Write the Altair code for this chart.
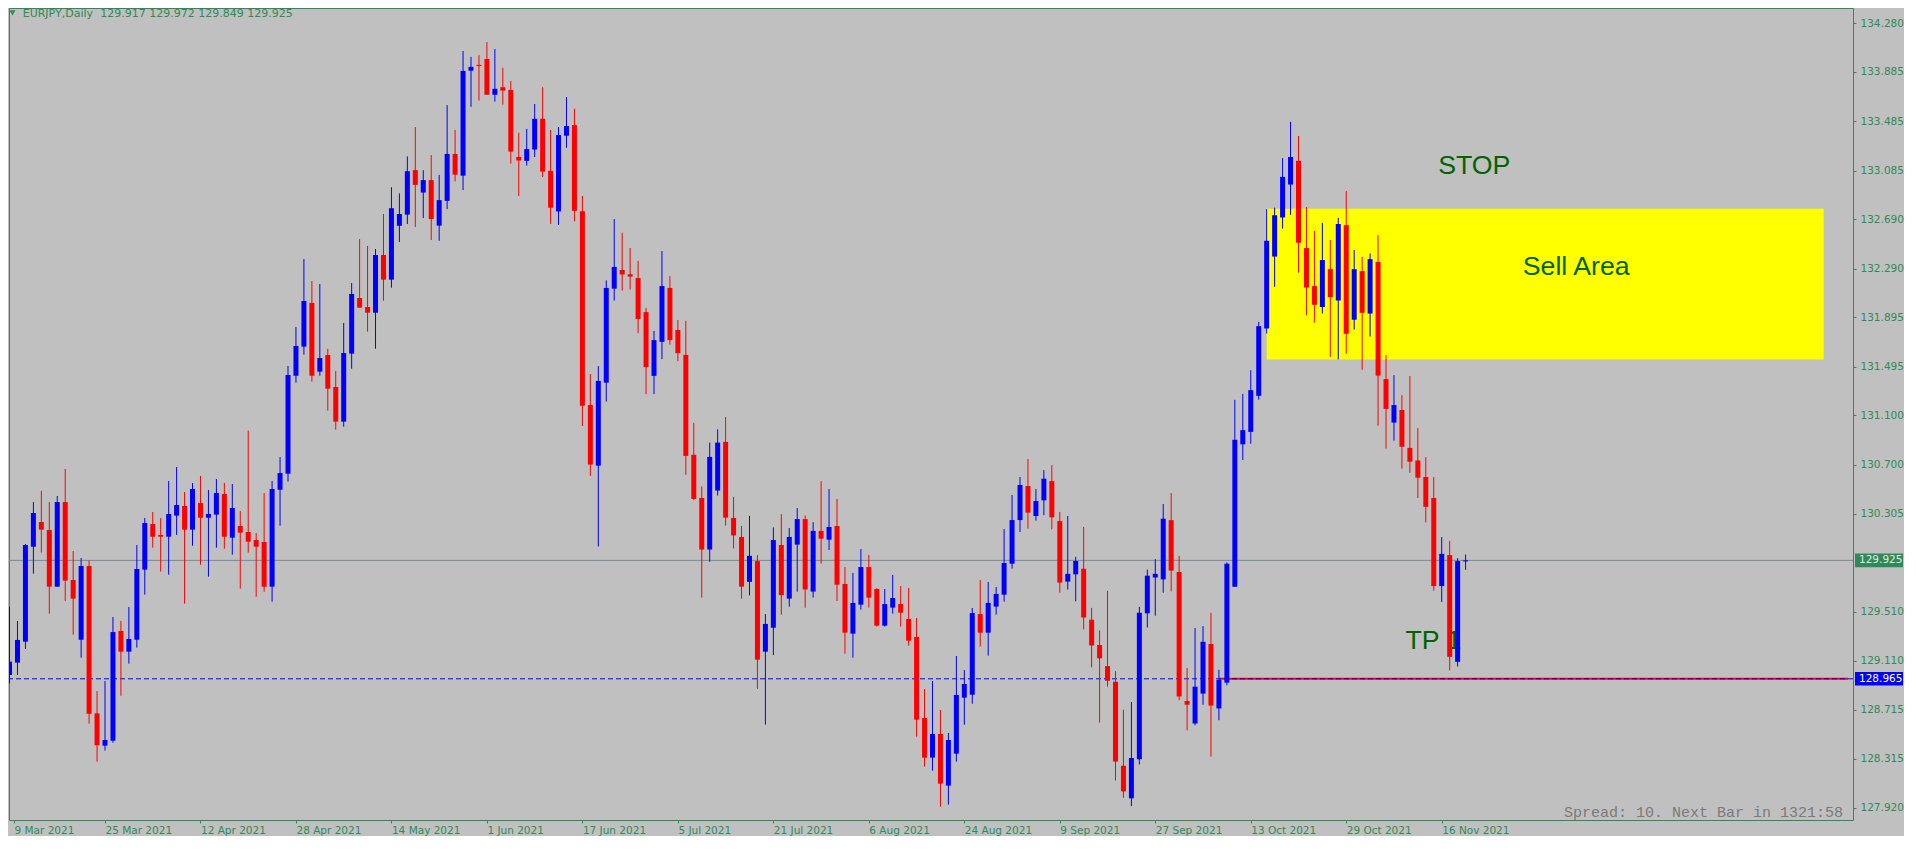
import altair as alt
import pandas as pd

# ---------------- data ----------------
opens = [128.996, 129.096, 129.266, 130.036, 130.236, 130.171, 129.712, 130.398, 129.766, 129.282,
         129.880, 128.685, 128.423, 128.463, 129.353, 129.185, 129.282, 129.850, 130.220, 130.131,
         130.117, 130.288, 130.366, 130.174, 130.390, 130.271, 130.296, 130.463, 130.109, 130.204,
         130.155, 130.090, 130.074, 129.712, 130.498, 130.628, 131.422, 131.658, 132.012, 131.455,
         131.590, 131.331, 131.050, 131.601, 132.052, 131.979, 131.933, 132.401, 132.201, 132.638,
         132.728, 133.089, 132.907, 133.008, 132.639, 132.840, 133.220, 133.044, 133.895, 133.940,
         133.990, 133.700, 133.761, 133.739, 133.195, 133.164, 133.256, 133.505, 133.083, 132.754,
         133.368, 133.454, 132.756, 131.185, 130.693, 131.366, 132.128, 132.279, 132.245, 132.214,
         131.938, 131.421, 131.697, 132.134, 131.793, 131.591, 130.781, 130.431, 130.013, 130.491,
         130.886, 130.269, 130.115, 129.751, 129.919, 129.185, 129.379, 130.050, 129.615, 130.053,
         130.260, 129.672, 130.164, 130.093, 130.204, 129.734, 129.331, 129.566, 129.871, 129.693,
         129.396, 129.542, 129.571, 129.450, 129.304, 128.647, 128.326, 128.518, 128.099, 128.358,
         128.812, 128.836, 129.490, 129.339, 129.550, 129.647, 129.898, 130.252, 130.528, 130.285,
         130.412, 130.568, 130.244, 129.753, 129.812, 129.857, 129.444, 129.239, 129.068, 128.941,
         128.260, 127.996, 128.312, 129.496, 129.786, 129.771, 130.251, 129.831, 128.785, 128.603,
         128.845, 129.247, 128.725, 128.934, 129.712, 130.866, 130.967, 131.259, 131.805, 132.388,
         132.705, 132.972, 133.164, 132.457, 132.149, 131.979, 132.286, 132.032, 132.643, 131.876,
         132.270, 131.926, 132.345, 131.395, 131.042, 131.144, 130.837, 130.735, 130.601, 130.431,
         129.717, 129.968, 129.103, 129.917]
highs = [129.550, 129.434, 130.058, 130.398, 130.488, 130.398, 130.447, 130.666, 130.001, 129.944,
         129.923, 128.866, 128.947, 129.466, 129.434, 129.547, 130.050, 130.269, 130.317, 130.269,
         130.569, 130.682, 130.479, 130.552, 130.609, 130.496, 130.585, 130.552, 130.544, 130.325,
         130.977, 130.147, 130.471, 130.569, 130.763, 131.501, 131.817, 132.368, 132.190, 132.166,
         131.639, 131.460, 131.850, 132.174, 132.530, 132.474, 132.449, 132.733, 132.950, 132.900,
         133.200, 133.438, 133.089, 133.211, 133.050, 133.616, 133.415, 134.055, 134.007, 134.021,
         134.127, 134.071, 133.918, 133.812, 133.393, 133.424, 133.625, 133.761, 133.415, 133.438,
         133.681, 133.586, 132.879, 131.436, 131.500, 132.195, 132.692, 132.581, 132.458, 132.353,
         131.972, 131.785, 132.433, 132.231, 131.873, 131.867, 131.040, 130.525, 130.880, 130.988,
         131.088, 130.440, 130.204, 130.286, 129.968, 129.490, 130.192, 130.300, 130.187, 130.349,
         130.289, 130.235, 130.568, 130.504, 130.423, 129.871, 129.823, 130.017, 129.969, 129.700,
         129.693, 129.807, 129.717, 129.701, 129.458, 128.882, 128.947, 128.712, 128.526, 129.150,
         129.036, 129.539, 129.766, 129.750, 129.709, 130.179, 130.455, 130.601, 130.747, 130.504,
         130.657, 130.698, 130.318, 130.285, 129.954, 130.196, 129.540, 129.358, 129.678, 129.027,
         128.714, 128.777, 129.548, 129.850, 129.935, 130.382, 130.471, 129.961, 129.053, 129.377,
         129.392, 129.500, 129.038, 129.909, 131.227, 131.275, 131.467, 131.858, 132.773, 132.785,
         133.186, 133.480, 133.366, 132.789, 132.596, 132.661, 132.522, 132.702, 132.919, 132.441,
         132.385, 132.413, 132.562, 131.591, 131.427, 131.265, 131.420, 130.998, 130.763, 130.601,
         130.114, 130.083, 129.943, 129.972]
lows = [128.928, 128.996, 129.207, 129.817, 129.988, 129.493, 129.712, 129.596, 129.323, 129.136,
        128.601, 128.293, 128.383, 128.447, 128.828, 129.088, 129.218, 129.647, 130.028, 129.834,
        129.809, 130.131, 129.574, 130.044, 129.890, 129.793, 130.028, 130.020, 129.971, 129.696,
        129.988, 129.631, 129.671, 129.590, 130.206, 130.563, 131.366, 131.593, 131.374, 131.422,
        131.139, 130.985, 131.009, 131.479, 131.974, 131.779, 131.641, 132.030, 132.136, 132.506,
        132.652, 132.628, 132.700, 132.522, 132.516, 132.773, 132.997, 132.927, 133.602, 133.652,
        133.700, 133.644, 133.619, 133.142, 132.879, 133.125, 133.195, 133.033, 132.653, 132.645,
        133.270, 132.675, 131.014, 130.610, 130.037, 131.213, 132.031, 132.112, 132.120, 131.768,
        131.273, 131.273, 131.557, 131.674, 131.540, 130.619, 130.414, 129.624, 129.914, 130.451,
        130.206, 130.022, 129.615, 129.641, 128.884, 128.594, 129.157, 129.484, 129.550, 129.672,
        129.541, 129.624, 129.899, 130.009, 129.596, 129.169, 129.136, 129.526, 129.542, 129.388,
        129.388, 129.493, 129.388, 129.234, 128.496, 128.253, 128.220, 127.928, 127.945, 128.293,
        128.593, 128.763, 129.226, 129.153, 129.485, 129.590, 129.858, 130.155, 130.182, 130.247,
        130.292, 130.177, 129.663, 129.689, 129.593, 129.366, 129.057, 128.610, 128.901, 128.141,
        128.000, 127.933, 128.271, 129.381, 129.477, 129.663, 129.674, 128.792, 128.547, 128.588,
        128.755, 128.334, 128.629, 128.912, 129.712, 130.739, 130.871, 131.228, 131.765, 132.143,
        132.615, 132.726, 132.258, 131.911, 131.852, 131.926, 131.575, 131.554, 131.600, 131.796,
        131.470, 131.740, 131.017, 130.831, 130.896, 130.669, 130.635, 130.431, 130.232, 129.680,
        129.587, 129.034, 129.065, 129.849]
closes = [129.104, 129.280, 130.050, 130.309, 130.174, 129.712, 130.398, 129.761, 129.615, 129.880,
          128.682, 128.426, 128.469, 129.344, 129.185, 129.288, 129.855, 130.228, 130.117, 130.117,
          130.301, 130.374, 130.174, 130.504, 130.271, 130.301, 130.471, 130.117, 130.350, 130.150,
          130.077, 130.036, 129.712, 130.504, 130.633, 131.428, 131.663, 132.028, 131.422, 131.566,
          131.317, 131.050, 131.606, 132.085, 131.974, 131.933, 132.401, 132.201, 132.780, 132.733,
          133.080, 132.969, 133.008, 132.692, 132.846, 133.220, 133.052, 133.893, 133.926, 133.935,
          133.700, 133.748, 133.734, 133.239, 133.167, 133.259, 133.505, 133.077, 132.784, 133.373,
          133.446, 132.759, 131.179, 130.702, 131.380, 132.134, 132.304, 132.243, 132.226, 131.881,
          131.492, 131.711, 132.149, 131.711, 131.605, 130.772, 130.423, 130.013, 130.764, 130.880,
          130.272, 130.127, 129.712, 129.962, 129.120, 129.410, 130.090, 129.643, 130.115, 130.260,
          129.689, 130.164, 130.101, 130.196, 129.728, 129.339, 129.580, 129.871, 129.623, 129.396,
          129.571, 129.620, 129.501, 129.274, 128.634, 128.326, 128.518, 128.115, 128.469, 128.834,
          128.923, 129.498, 129.339, 129.580, 129.653, 129.904, 130.252, 130.536, 130.312, 130.406,
          130.587, 130.274, 129.745, 129.816, 129.920, 129.462, 129.235, 129.131, 128.949, 128.294,
          128.052, 128.323, 129.500, 129.801, 129.816, 130.263, 129.842, 128.822, 128.755, 128.901,
          129.265, 128.748, 128.956, 129.898, 130.903, 130.981, 131.305, 131.824, 132.516, 132.723,
          133.034, 133.195, 132.500, 132.137, 131.997, 132.360, 132.059, 132.652, 131.762, 132.286,
          131.932, 132.367, 131.423, 131.153, 131.184, 130.846, 130.725, 130.595, 130.359, 129.717,
          129.978, 129.143, 129.919, 129.925]

date_labels = ["9 Mar 2021", "25 Mar 2021", "12 Apr 2021", "28 Apr 2021", "14 May 2021",
               "1 Jun 2021", "17 Jun 2021", "5 Jul 2021", "21 Jul 2021", "6 Aug 2021",
               "24 Aug 2021", "9 Sep 2021", "27 Sep 2021", "13 Oct 2021", "29 Oct 2021",
               "16 Nov 2021"]
bars_per_label = 12

price_ticks = [134.280, 133.885, 133.485, 133.085, 132.690, 132.290, 131.895, 131.495,
               131.100, 130.700, 130.305, 129.510, 129.110, 128.715, 128.315, 127.920]

bid_price = 129.925
tp_price = 128.965
tp_start_bar = 152
sell_bars = [158, 228]
sell_prices = [131.554, 132.775]
note_texts = ["STOP", "Sell Area", "TP 1"]
note_bars = [179.56, 190.19, 175.44]
note_prices = [133.058, 132.239, 129.203]
title_symbol = "EURJPY,Daily"
title_ohlc = "129.917 129.972 129.849 129.925"
spread_text = "Spread: 10. Next Bar in 1321:58"

# ---------------- layout / style ----------------
W, H = 1844, 812
PX = 0.008107            # price units per pixel on the right axis
X_DOM = [0.5625, 231.0625]
Y_DOM = [134.40323 - PX * H, 134.40323]
GREEN = "#2E8B57"
BG = "#C0C0C0"
AX_FONT = "DejaVu Sans"

n = len(opens)
df = pd.DataFrame({"i": list(range(n)), "open": opens, "high": highs,
                   "low": lows, "close": closes})
df["dir"] = ["up" if c >= o else "down" for o, c in zip(df["open"], df["close"])]
lo = df[["open", "close"]].min(axis=1)
hi = df[["open", "close"]].max(axis=1)
mid = (lo + hi) / 2
small = (hi - lo) < 0.009
df["b0"] = lo.where(~small, mid - 0.0045)
df["b1"] = hi.where(~small, mid + 0.0045)

xs = alt.Scale(domain=X_DOM, nice=False, zero=False)
ys = alt.Scale(domain=Y_DOM, nice=False, zero=False)

label_expr = "[" + ",".join("'%s'" % s for s in date_labels) + "][round(datum.value / %d)]" % bars_per_label
x_axis = alt.Axis(values=[X_DOM[0]] + list(range(bars_per_label, bars_per_label * len(date_labels), bars_per_label)),
                  labelExpr=label_expr, title=None, grid=False, domain=False,
                  tickSize=3, tickColor=GREEN, labelColor=GREEN, labelFont=AX_FONT,
                  labelFontSize=10.5, labelAlign="left", labelBaseline="top",
                  labelPadding=2, labelFlush=False, labelOverlap=False)
y_axis = alt.Axis(values=price_ticks, format=".3f", orient="right", title=None, grid=False,
                  domain=False, tickSize=3, tickColor=GREEN, labelColor=GREEN,
                  labelFont=AX_FONT, labelFontSize=10.5, labelAlign="left",
                  labelBaseline="middle", labelPadding=4, labelOverlap=False)


def X(f):
    return alt.X(f, type="quantitative", scale=xs, axis=x_axis)


def Y(f):
    return alt.Y(f, type="quantitative", scale=ys, axis=y_axis)


color = alt.Color("dir:N", scale=alt.Scale(domain=["up", "down"], range=["#0000FF", "#FF0000"]),
                  legend=None)

sell_df = pd.DataFrame({"x0": [sell_bars[0]], "x1": [sell_bars[1]],
                        "p0": [sell_prices[0]], "p1": [sell_prices[1]]})
rect = alt.Chart(sell_df).mark_rect(color="#FFFF00").encode(
    x=X("x0"), x2="x1", y=Y("p0"), y2="p1")

notes_df = pd.DataFrame({"t": note_texts, "x": note_bars, "p": note_prices})
notes = alt.Chart(notes_df).mark_text(
    font="Liberation Sans", fontSize=26.7, color="#006400", align="left",
    baseline="alphabetic").encode(x=X("x"), y=Y("p"), text="t:N")

box_half = 6.8 * PX
bid_df = pd.DataFrame({"p": [bid_price], "label": ["%.3f" % bid_price],
                       "pa": [bid_price - box_half], "pb": [bid_price + box_half]})
tp_df = pd.DataFrame({"p": [tp_price], "label": ["%.3f" % tp_price],
                      "pa": [tp_price - box_half], "pb": [tp_price + box_half],
                      "x0": [tp_start_bar], "x1": [X_DOM[1]]})

bid_line = alt.Chart(bid_df).mark_rule(color="#778899", strokeWidth=1).encode(y=Y("p"))
tp_red = alt.Chart(tp_df).mark_rule(color="#FF0000", strokeWidth=2, clip=True).encode(
    x=X("x0"), x2="x1", y=Y("p"))
tp_dash = alt.Chart(tp_df).mark_rule(color="#0000FF", strokeWidth=1, strokeDash=[5, 3]).encode(
    y=Y("p"))

wicks = alt.Chart(df).mark_rule(strokeWidth=1, clip=True).encode(
    x=X("i"), y=Y("low"), y2="high", color=color)
bodies = alt.Chart(df).mark_bar(size=5, orient="vertical", clip=True).encode(
    x=X("i"), y=Y("b0"), y2="b1", color=color)

bid_box = alt.Chart(bid_df).mark_rect(color=GREEN).encode(
    x=alt.value(W + 2), x2=alt.value(W + 50), y=Y("pa"), y2="pb")
bid_txt = alt.Chart(bid_df).mark_text(font=AX_FONT, fontSize=10.5, color="#E6E6E6",
                                      align="left", baseline="middle").encode(
    x=alt.value(W + 6), y=Y("p"), text="label:N")
tp_box = alt.Chart(tp_df).mark_rect(color="#0000FF").encode(
    x=alt.value(W + 2), x2=alt.value(W + 50), y=Y("pa"), y2="pb")
tp_txt = alt.Chart(tp_df).mark_text(font=AX_FONT, fontSize=10.5, color="#FFFFFF",
                                    align="left", baseline="middle").encode(
    x=alt.value(W + 6), y=Y("p"), text="label:N")

head_df = pd.DataFrame({"a": [title_symbol], "b": [title_ohlc], "s": [spread_text]})
tri = alt.Chart(head_df).mark_point(shape="triangle-down", filled=True, size=36,
                                    color=GREEN, opacity=1).encode(
    x=alt.value(3.5), y=alt.value(4.8))
t1 = alt.Chart(head_df).mark_text(font=AX_FONT, fontSize=11, color=GREEN, align="left",
                                  baseline="alphabetic").encode(
    x=alt.value(13.7), y=alt.value(9), text="a:N")
t2 = alt.Chart(head_df).mark_text(font=AX_FONT, fontSize=11, color=GREEN, align="left",
                                  baseline="alphabetic").encode(
    x=alt.value(91.3), y=alt.value(9), text="b:N")
spread = alt.Chart(head_df).mark_text(font="Liberation Mono", fontSize=15, color="#7A7A7A",
                                      align="right", baseline="alphabetic").encode(
    x=alt.value(W - 10), y=alt.value(H - 3), text="s:N")

chart = alt.layer(
    rect, notes, bid_line, tp_red, tp_dash, wicks, bodies,
    bid_box, bid_txt, tp_box, tp_txt, tri, t1, t2, spread
).properties(
    width=W, height=H, background=BG, padding=0
).configure_view(
    stroke=GREEN, strokeWidth=1, fill=BG
)

chart.save("out.html", embed_options={"renderer": "svg", "actions": False})
